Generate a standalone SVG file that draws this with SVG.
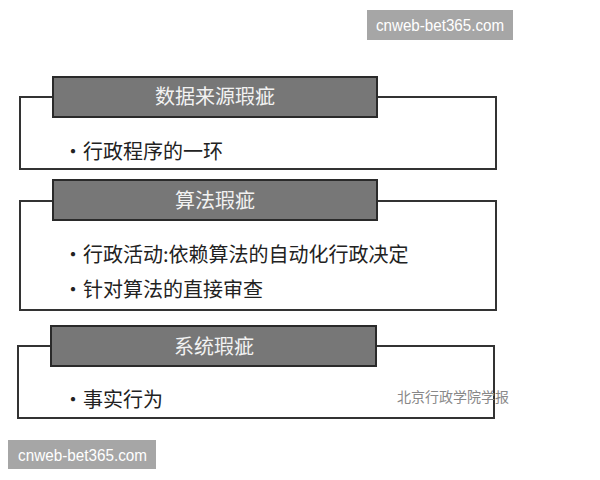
<svg xmlns="http://www.w3.org/2000/svg" width="600" height="480" viewBox="0 0 600 480">
<style>
.outer{fill:#fff;stroke:#333;stroke-width:2}
.head{fill:#777;stroke:#2a2a2a;stroke-width:2}
.title{font-family:"Noto Sans CJK SC",sans-serif;font-size:20px;fill:#f2f2f2;text-anchor:middle}
.body{font-family:"Noto Sans CJK SC",sans-serif;font-size:20px;fill:#222}
.wm{fill:#a6a6a6}
.wmt{font-family:"Liberation Sans",Arial,sans-serif;font-size:16px;fill:#fff}
.src{font-family:"Noto Sans CJK SC",sans-serif;font-size:14px;fill:#888}
</style>
<rect width="600" height="480" fill="#fff"/>
<g id="wm-top"><rect class="wm" x="367" y="10" width="146" height="30"/><text class="wmt" x="376" y="31" textLength="128" lengthAdjust="spacingAndGlyphs">cnweb-bet365.com</text></g>
<g id="node1">
<rect class="outer" x="20" y="97" width="476" height="72"/>
<rect class="head" x="53" y="77" width="324" height="40"/>
<text class="title" x="215" y="104">数据来源瑕疵</text>
<text class="body" x="63" y="159">·行政程序的一环</text>
</g>
<g id="node2">
<rect class="outer" x="20" y="201" width="476" height="109"/>
<rect class="head" x="53" y="180" width="324" height="40"/>
<text class="title" x="215" y="208">算法瑕疵</text>
<text class="body" x="63" y="262">·行政活动:依赖算法的自动化行政决定</text>
<text class="body" x="63" y="297">·针对算法的直接审查</text>
</g>
<g id="node3">
<rect class="outer" x="18" y="346" width="476" height="72"/>
<rect class="head" x="51" y="326" width="325" height="40"/>
<text class="title" x="214" y="354">系统瑕疵</text>
<text class="body" x="63" y="407">·事实行为</text>
<text class="src" x="397" y="402">北京行政学院学报</text>
</g>
<g id="connectors"></g>
<g id="wm-bottom"><rect class="wm" x="8" y="440" width="148" height="29"/><text class="wmt" x="18" y="461" textLength="129" lengthAdjust="spacingAndGlyphs">cnweb-bet365.com</text></g>
</svg>
